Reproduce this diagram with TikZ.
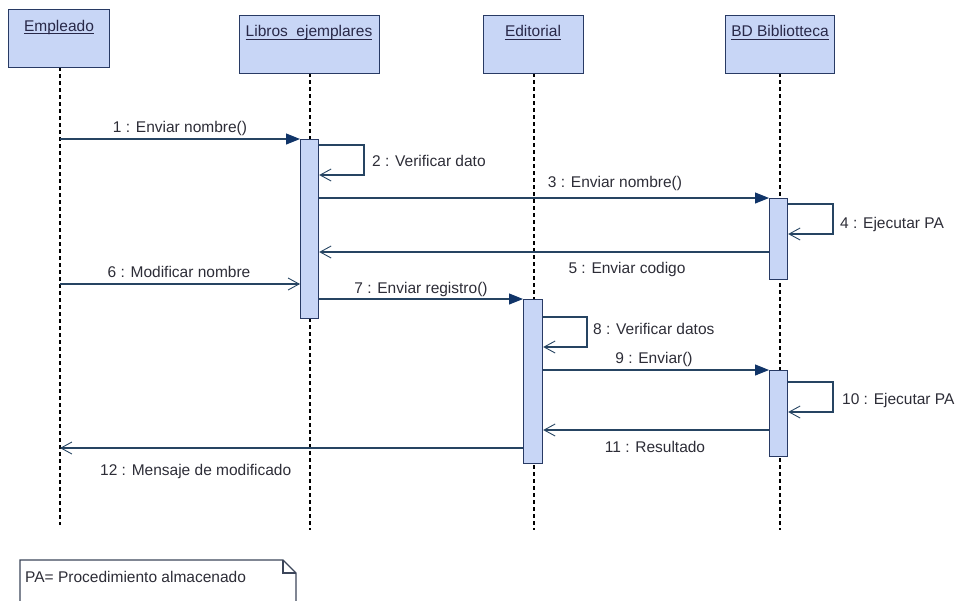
\documentclass[tikz,border=0pt]{standalone}
\usepackage{fontspec}
\setmainfont{Liberation Sans}
\usetikzlibrary{arrows.meta}

\definecolor{boxfill}{RGB}{200,214,246}
\definecolor{boxline}{RGB}{40,58,100}
\definecolor{msgline}{RGB}{38,68,98}
\definecolor{tipfill}{RGB}{16,52,104}
\definecolor{txt}{RGB}{45,45,55}
\definecolor{headtxt}{RGB}{40,40,72}
\definecolor{noteline}{RGB}{60,70,90}

\begin{document}
\begin{tikzpicture}[x=1pt,y=-1pt,
  font=\fontsize{15.5}{18}\selectfont,
  objbox/.style={draw=boxline, fill=boxfill, line width=1.3pt, inner sep=0pt, anchor=north west},
  objname/.style={text=headtxt, inner sep=0pt, anchor=base},
  actbar/.style={draw=boxline, fill=boxfill, line width=1.2pt, inner sep=0pt, anchor=north west, minimum width=18pt},
  lifeline/.style={draw=black, line width=1.1pt, dash pattern=on 4pt off 3pt},
  call/.style={draw=msgline, line width=1.1pt, -{Triangle[length=14pt,width=11pt,color=tipfill]}},
  reply/.style={draw=msgline, line width=1.1pt, -{Straight Barb[length=11pt,width=12pt,line width=0.9pt]}},
  msglabel/.style={text=txt, inner sep=0pt, anchor=base},
  sidelabel/.style={text=txt, inner sep=0pt, anchor=base west},
]
\path[use as bounding box] (0,0) rectangle (960,600);
\clip (0,0) rectangle (960,600);

% lifelines
\coordinate (empTop) at (60,67);   \coordinate (empEnd) at (60,525);
\coordinate (libTop) at (310,73);  \coordinate (libEnd) at (310,530);
\coordinate (ediTop) at (534,73);  \coordinate (ediEnd) at (534,530);
\coordinate (bdbTop) at (780,73);  \coordinate (bdbEnd) at (780,530);
\draw[lifeline] (empTop) -- (empEnd);
\draw[lifeline] (libTop) -- (libEnd);
\draw[lifeline] (ediTop) -- (ediEnd);
\draw[lifeline] (bdbTop) -- (bdbEnd);

% object heads
\node[objbox, minimum width=101pt, minimum height=58pt] (emp) at (8,9) {};
\node[objbox, minimum width=140pt, minimum height=58pt] (lib) at (239,15) {};
\node[objbox, minimum width=100pt, minimum height=58pt] (edi) at (483,15) {};
\node[objbox, minimum width=109pt, minimum height=58pt] (bdb) at (725,15) {};

\node[objname] (empT) at (59,31) {Empleado};
\node[objname] (libT) at (309,36.3) {Libros\hspace{0.55em}ejemplares};
\node[objname] (ediT) at (533,36.3) {Editorial};
\node[objname] (bdbT) at (780,36.3) {BD Bibliotteca};
\foreach \t in {empT,libT,ediT,bdbT}
  \draw[headtxt, line width=0.9pt] ([yshift=-2.8pt]\t.base west) -- ([yshift=-2.8pt]\t.base east);

% activation bars
\node[actbar, minimum height=179pt] (libAct) at (300,139) {};
\node[actbar, minimum height=81pt]  (bdAct1) at (769,198) {};
\node[actbar, minimum width=19pt, minimum height=164pt] (ediAct) at (523,299) {};
\node[actbar, minimum height=86pt]  (bdAct2) at (769,370) {};

% messages
\coordinate (m1) at (60,139);
\draw[call] (m1) -- (m1 -| libAct.west);
\node[msglabel] (l1) at (180,132) {1 : Enviar nombre()};

\draw[reply] (libAct.east |- 0,145) -- (364,145) -- (364,175) -- (libAct.east |- 0,175);
\node[sidelabel] (l2) at (372,166) {2 : Verificar dato};

\draw[call] (libAct.east |- 0,198) -- (bdAct1.north west);
\node[msglabel] (l3) at (615,187) {3 : Enviar nombre()};

\draw[reply] (bdAct1.east |- 0,204) -- (833,204) -- (833,234) -- (bdAct1.east |- 0,234);
\node[sidelabel] (l4) at (840,228) {4 : Ejecutar PA};

\draw[reply] (bdAct1.west |- 0,252) -- (libAct.east |- 0,252);
\node[msglabel] (l5) at (627,273) {5 : Enviar codigo};

\coordinate (m6) at (60,284);
\draw[reply] (m6) -- (m6 -| libAct.west);
\node[msglabel] (l6) at (179,277) {6 : Modificar nombre};

\draw[call] (libAct.east |- ediAct.north) -- (ediAct.north west);
\node[msglabel] (l7) at (421,293) {7 : Enviar registro()};

\draw[reply] (ediAct.east |- 0,317) -- (587,317) -- (587,347) -- (ediAct.east |- 0,347);
\node[sidelabel] (l8) at (593,334) {8 : Verificar datos};

\draw[call] (ediAct.east |- bdAct2.north) -- (bdAct2.north west);
\node[msglabel] (l9) at (654,363) {9 : Enviar()};

\draw[reply] (bdAct2.east |- 0,382) -- (833,382) -- (833,412) -- (bdAct2.east |- 0,412);
\node[sidelabel] (l10) at (842,404) {10 : Ejecutar PA};

\draw[reply] (bdAct2.west |- 0,430) -- (ediAct.east |- 0,430);
\node[msglabel] (l11) at (655,452) {11 : Resultado};

\draw[reply] (ediAct.west |- 0,448) -- (empEnd |- 0,448);
\node[sidelabel] (l12) at (100,475) {12 : Mensaje de modificado};

% note with folded corner
\draw[noteline, fill=white, line width=1.1pt]
  (20,620) -- (20,560) -- (283,560) -- (296,573) -- (296,620);
\draw[noteline, line width=1.1pt] (283,560) -- (283,573) -- (296,573);
\node[sidelabel] (note) at (25,582) {PA= Procedimiento almacenado};
\end{tikzpicture}
\end{document}
